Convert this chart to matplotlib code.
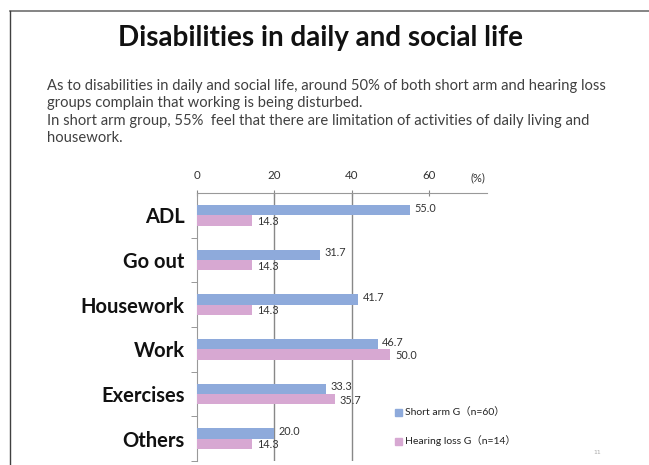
import matplotlib
matplotlib.use("Agg")
import matplotlib.pyplot as plt
from matplotlib.lines import Line2D
from matplotlib.patches import Rectangle
import numpy as np

categories = ["ADL", "Go out", "Housework", "Work", "Exercises", "Others"]
short_arm = [55.0, 31.7, 41.7, 46.7, 33.3, 20.0]
hearing_loss = [14.3, 14.3, 14.3, 50.0, 35.7, 14.3]
x_ticks = [0, 20, 40, 60]
legend_labels = ["Short arm G（n=60）", "Hearing loss G（n=14）"]
title = "Disabilities in daily and social life"
body = ["As to disabilities in daily and social life, around 50% of both short arm and hearing loss",
        "groups complain that working is being disturbed.",
        "In short arm group, 55%  feel that there are limitation of activities of daily living and",
        "housework."]

BLUE = "#8eaadb"
PINK = "#d7a8d2"

W, H = 649, 465
fig = plt.figure(figsize=(W/100, H/100), dpi=100)

def fx(px): return px / W
def fy(py): return 1 - py / H

# frame lines
fig.add_artist(Line2D([fx(10), fx(649)], [fy(11), fy(11)], color="#707070", lw=1.2))
fig.add_artist(Line2D([fx(10), fx(10)], [fy(11), fy(465)], color="#404040", lw=1.0))

fig.text(fx(320), fy(38), title, ha="center", va="center", fontsize=20,
         fontweight="bold", family="Lato", color="#111111")
for i, line in enumerate(body):
    fig.text(fx(47), fy(86 + i * 17.3), line, ha="left", va="center", fontsize=10.6,
             family="Lato", color="#404040")

left, right = 197, 487
top, bottom = 193, 461
ax = fig.add_axes([fx(left), fy(bottom), fx(right) - fx(left), (bottom - top) / H])
n = len(categories)
y = np.arange(n)
bh = 0.235
ax.barh(y - bh/2, short_arm, height=bh, color=BLUE, zorder=3)
ax.barh(y + bh/2, hearing_loss, height=bh, color=PINK, zorder=3)
ax.set_xlim(0, 75)
ax.set_ylim(n - 0.5, -0.5)

for xv in [20, 40]:
    ax.axvline(xv, color="#888888", lw=1.0, zorder=1)

for i in range(n):
    ax.text(short_arm[i] + 1.2, y[i] - bh/2 - 0.04, f"{short_arm[i]:.1f}", ha="left", va="center",
            fontsize=7.8, family="Lato", color="#333333", zorder=4)
    ax.text(hearing_loss[i] + 1.2, y[i] + bh/2 + 0.02, f"{hearing_loss[i]:.1f}", ha="left", va="center",
            fontsize=7.8, family="Lato", color="#333333", zorder=4)

ax.xaxis.tick_top()
ax.set_xticks(x_ticks)
ax.set_xticklabels([str(v) for v in x_ticks], family="Lato", fontsize=8.3, color="#333333")
ax.tick_params(axis="x", direction="inout", length=5, color="#888888", pad=6)
ax.set_yticks(y)
ax.set_yticklabels(categories, family="Lato", fontweight="bold", fontsize=14.5, color="#111111")
ax.tick_params(axis="y", length=0, pad=9)
ax.set_yticks(np.arange(n) + 0.5, minor=True)
ax.tick_params(axis="y", which="minor", length=4, color="#888888", direction="out")
for s in ["right", "bottom"]:
    ax.spines[s].set_visible(False)
ax.spines["top"].set_color("#999999")
ax.spines["left"].set_color("#999999")
ax.patch.set_alpha(0)

fig.text(fx(478), fy(178), "(%)", ha="center", va="center", fontsize=8, family="Lato", color="#333333")

# legend
for j, (lab, col) in enumerate(zip(legend_labels, [BLUE, PINK])):
    yy = 412 + j * 29
    fig.add_artist(Rectangle((fx(395), fy(yy + 3.5)), 7 / W, 7 / H, color=col))
    fig.text(fx(405), fy(yy), lab, ha="left", va="center", fontsize=7.5,
             family=["Lato", "Noto Sans CJK JP"], color="#222222")

fig.text(fx(597), fy(452), "11", ha="center", va="center", fontsize=4.5, color="#aaaaaa")

fig.savefig("out.png", dpi=100)
